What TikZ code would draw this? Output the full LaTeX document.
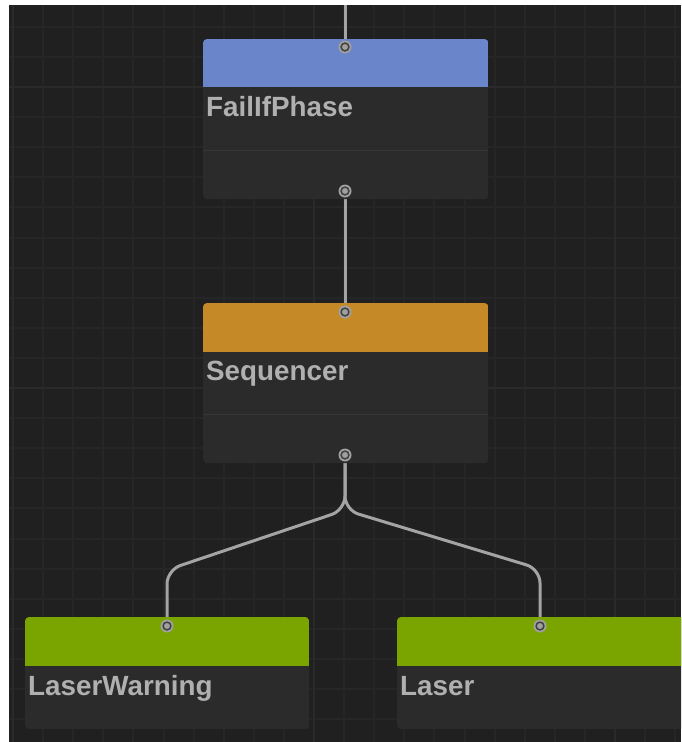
\documentclass[tikz,border=0pt]{standalone}
\usepackage{fontspec}
\setmainfont{Liberation Sans}
\definecolor{bgc}{HTML}{202020}
\definecolor{gridc}{HTML}{262626}
\definecolor{gridmaj}{HTML}{2A2A2A}
\definecolor{bodyc}{HTML}{2B2B2B}
\definecolor{sepc}{HTML}{363636}
\definecolor{hblue}{HTML}{6B85CB}
\definecolor{horange}{HTML}{C58A27}
\definecolor{hgreen}{HTML}{7AA400}
\definecolor{wirec}{HTML}{A4A4A4}
\definecolor{txtc}{HTML}{B0B0B0}
\definecolor{portc}{HTML}{A0A0A0}
\definecolor{portdark}{HTML}{404040}
\pgfdeclarelayer{bglayer}
\pgfdeclarelayer{wirelayer}
\pgfsetlayers{bglayer,wirelayer,main}
\tikzset{
  box/.style={rectangle, rounded corners=4pt, fill=bodyc, inner sep=0pt, anchor=north west},
  title/.style={anchor=base west, inner sep=0pt, text=txtc, font=\bfseries\fontsize{27.8}{30}\selectfont},
  port/.style={circle, fill=portc, minimum size=13pt, inner sep=0pt,
    path picture={\draw[portdark, line width=1.5pt] (path picture bounding box.center) circle (3.9pt);}},
  wire/.style={draw=wirec, line width=3pt},
  sepline/.style={draw=sepc, line width=1pt},
}
\begin{document}
\begin{tikzpicture}[x=1pt,y=-1pt]
\useasboundingbox (0,0) rectangle (681,742);
\clip (0,0) rectangle (681,742);
\begin{pgfonlayer}{bglayer}
  \fill[white] (0,0) rectangle (681,742);
  \fill[bgc] (9,5) rectangle (681,742);
  \begin{scope}
    \clip (9,5) rectangle (681,742);
    \foreach \k in {0,...,22} {
      \draw[gridc, line width=2pt] ({13+30.1*\k},5) -- ({13+30.1*\k},742);
    }
    \foreach \k in {-2,...,24} {
      \draw[gridc, line width=2pt] (9,{87+30.1*\k}) -- (681,{87+30.1*\k});
    }
    \foreach \k in {0,10,20} {
      \draw[gridmaj, line width=2.5pt] ({13+30.1*\k},5) -- ({13+30.1*\k},742);
    }
    \foreach \k in {0,10} {
      \draw[gridmaj, line width=2.5pt] (9,{87+30.1*\k}) -- (681,{87+30.1*\k});
    }
  \end{scope}
\end{pgfonlayer}

% node bodies
\node[box, minimum width=285pt, minimum height=160pt] (fail) at (203,39) {};
\begin{scope}
  \clip[rounded corners=4pt] (fail.north west) rectangle (fail.south east);
  \fill[hblue] (fail.north west) rectangle ([yshift=-48pt]fail.north east);
  \draw[sepline] ([yshift=-111pt]fail.north west) -- ([yshift=-111pt]fail.north east);
\end{scope}
\node[title] (failtxt) at (206,116) {FailIfPhase};

\node[box, minimum width=285pt, minimum height=160pt] (seq) at (203,303) {};
\begin{scope}
  \clip[rounded corners=4pt] (seq.north west) rectangle (seq.south east);
  \fill[horange] (seq.north west) rectangle ([yshift=-49pt]seq.north east);
  \draw[sepline] ([yshift=-111pt]seq.north west) -- ([yshift=-111pt]seq.north east);
\end{scope}
\node[title] (seqtxt) at (206,380) {Sequencer};

\node[box, minimum width=284pt, minimum height=112pt] (lw) at (25,617) {};
\begin{scope}
  \clip[rounded corners=4pt] (lw.north west) rectangle (lw.south east);
  \fill[hgreen] (lw.north west) rectangle ([yshift=-49pt]lw.north east);
\end{scope}
\node[title] (lwtxt) at (28,695) {LaserWarning};

\node[box, minimum width=300pt, minimum height=112pt] (las) at (397,617) {};
\begin{scope}
  \clip[rounded corners=4pt] (las.north west) rectangle (las.south east);
  \fill[hgreen] (las.north west) rectangle ([yshift=-49pt]las.north east);
\end{scope}
\node[title] (lastxt) at (400,695) {Laser};

% ports
\node[port] (failin) at (345,47) {};
\node[port] (failout) at (345,191) {};
\node[port] (seqin) at (345,312) {};
\node[port] (seqout) at (345,455) {};
\node[port] (lwin) at (167,626) {};
\node[port] (lasin) at (540,626) {};
\coordinate (topend) at (345,5);
\coordinate (fork) at (345,510);
\coordinate (lbend) at (167,570);
\coordinate (rbend) at (540,569);

% wires
\begin{pgfonlayer}{wirelayer}
  \draw[wire] (topend) -- (failin.center);
  \draw[wire] (failout.center) -- (seqin.center);
  \draw[wire, rounded corners=14pt] (seqout.center) -- (fork) -- (lbend) -- (lwin.center);
  \draw[wire, rounded corners=14pt] (seqout.center) -- (fork) -- (rbend) -- (lasin.center);
\end{pgfonlayer}
\end{tikzpicture}
\end{document}
